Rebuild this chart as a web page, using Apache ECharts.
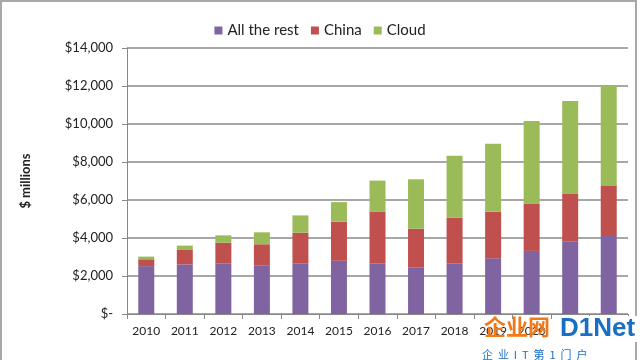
<!DOCTYPE html>
<html>
<head>
<meta charset="utf-8">
<style>html,body{margin:0;padding:0;background:#fff}#c{width:640px;height:360px}</style>
<script src="https://cdn.jsdelivr.net/npm/echarts@6/dist/echarts.min.js"></script>
</head>
<body>
<div id="c"></div>
<script>
var years = ['2010','2011','2012','2013','2014','2015','2016','2017','2018','2019','2020','2021','2022'];
var allTheRest = [2520, 2610, 2670, 2540, 2670, 2800, 2670, 2460, 2670, 2930, 3320, 3810, 4100];
var china      = [360, 790, 1080, 1130, 1610, 2060, 2720, 2030, 2400, 2460, 2500, 2510, 2640];
var cloud      = [140, 200, 390, 630, 910, 1030, 1630, 2600, 3260, 3570, 4340, 4890, 5300];
var yTicks = [0, 2000, 4000, 6000, 8000, 10000, 12000, 14000];

var font = 'Lato, "Open Sans", sans-serif';
var chart = echarts.init(document.getElementById('c'));
function fmt(v){ return v === 0 ? '$-' : '$' + v.toLocaleString('en-US'); }
chart.setOption({
  animation: false,
  backgroundColor: '#fff',
  legend: {
    top: 18, left: 'center',
    itemWidth: 8, itemHeight: 8, itemGap: 12,
    icon: 'rect',
    textStyle: {fontFamily: font, fontSize: 15, color: '#222'},
    data: ['All the rest', 'China', 'Cloud']
  },
  grid: {left: 127, right: 12, top: 48, bottom: 46, containLabel: false},
  xAxis: {
    type: 'category', data: years,
    axisLine: {lineStyle: {color: '#888', width: 1}},
    axisTick: {show: true, length: 5, lineStyle: {color: '#888'}},
    axisLabel: {fontFamily: font, fontSize: 12, color: '#222', margin: 11, interval: 0}
  },
  yAxis: {
    type: 'value', min: 0, max: 14000, interval: 2000,
    name: '$ millions', nameLocation: 'middle', nameGap: 95, nameRotate: 90,
    nameTextStyle: {fontFamily: font, fontSize: 13, fontWeight: 'bold', color: '#222'},
    axisLine: {show: true, lineStyle: {color: '#888'}},
    axisTick: {show: true, length: 5, inside: false, lineStyle: {color: '#888'}},
    axisLabel: {fontFamily: font, fontSize: 13, color: '#222', margin: 14, formatter: fmt},
    splitLine: {lineStyle: {color: '#8a8a8a', width: 1.5}}
  },
  series: [
    {name: 'All the rest', type: 'bar', stack: 't', data: allTheRest, barWidth: 16, itemStyle: {color: '#8064A2'}},
    {name: 'China', type: 'bar', stack: 't', data: china, barWidth: 16, itemStyle: {color: '#C0504D'}},
    {name: 'Cloud', type: 'bar', stack: 't', data: cloud, barWidth: 16, itemStyle: {color: '#9BBB59'}}
  ],
  graphic: [
    {type: 'rect', shape: {x: 1, y: 1, width: 635, height: 362}, style: {fill: 'none', stroke: '#a8a8a8', lineWidth: 2}, silent: true},
    {type: 'text', left: 484, top: 316, style: {text: '企业网', fontSize: 22, fontWeight: 'bold', fontFamily: '"Noto Sans CJK SC", sans-serif', fill: '#F07A1A'}, z: 100},
    {type: 'text', left: 556, top: 316, style: {text: 'D1Net', fontSize: 26, fontWeight: 'bold', fontFamily: '"Liberation Sans", sans-serif', fill: '#1A6FC4', backgroundColor: '#fff', padding: [0, 2, 0, 4]}, z: 100},
    {type: 'text', left: 482, top: 349, style: {text: '企  业  I  T  第  1  门  户', fontSize: 11, fontFamily: '"Noto Sans CJK SC", sans-serif', fill: '#1A6FC4'}, z: 100}
  ]
});
</script>
</body>
</html>
